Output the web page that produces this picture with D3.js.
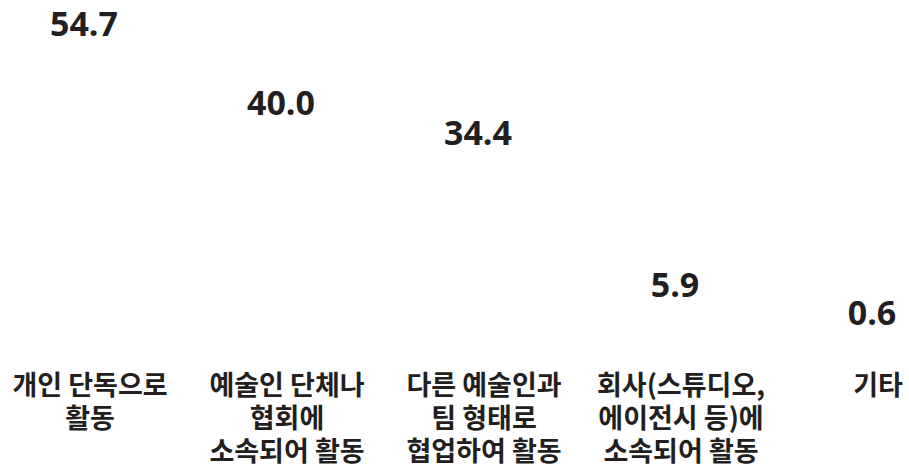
<!DOCTYPE html>
<html>
<head>
<meta charset="utf-8">
<script src="https://cdn.jsdelivr.net/npm/d3@7"></script>
<style>
	html, body { margin: 0; padding: 0; background: #fff; }
	svg { display: block; }
</style>
</head>
<body>
<svg id="chart" width="909" height="468"></svg>
<script>
(function(){

	var categories = ["개인 단독으로 활동", "예술인 단체나 협회에 소속되어 활동", "다른 예술인과 팀 형태로 협업하여 활동", "회사(스튜디오, 에이전시 등)에 소속되어 활동", "기타"];
	var values = [54.7, 40.0, 34.4, 5.9, 0.6];
	var labelLines = [
		["개인 단독으로", "활동"],
		["예술인 단체나", "협회에", "소속되어 활동"],
		["다른 예술인과", "팀 형태로", "협업하여 활동"],
		["회사(스튜디오,", "에이전시 등)에", "소속되어 활동"],
		["기타"]
	];

	var textColor = "#231f20";

	var svg = d3.select("#chart");

	var x = d3.scaleBand()
		.domain(categories)
		.range([-14.5, 970.5])
		.paddingInner(0.3)
		.paddingOuter(0.15);

	var y = d3.scaleLinear()
		.domain([0, 60])
		.range([332, 12]);

	var data = categories.map(function(c, i){ return { cat : c, value : values[i], lines : labelLines[i] }; });

	function center(d){
		return x(d.cat) + x.bandwidth() / 2;
	}

	// bars are white in the original, so they do not show
	svg.append("g").selectAll("rect").data(data).enter().append("rect")
		.attr("x", function(d) { return x(d.cat); })
		.attr("y", function(d) { return y(d.value); })
		.attr("width", x.bandwidth())
		.attr("height", function(d) { return y(0) - y(d.value); })
		.attr("fill", "#fff");

	svg.append("g").selectAll("text").data(data).enter().append("text")
		.attr("x", center)
		.attr("y", function(d) { return y(d.value) - 4; })
		.attr("text-anchor", "middle")
		.attr("font-family", "'Open Sans', 'Noto Sans', sans-serif")
		.attr("font-weight", 700)
		.attr("font-size", 34)
		.attr("fill", textColor)
		.text(function(d) { return d.value.toFixed(1); });

	// one text per line of each category label
	var lineData = [];
	data.forEach(function(d){
		d.lines.forEach(function(l, i){
			lineData.push({ line : l, x : center(d) + 6, row : i });
		});
	});

	svg.append("g").selectAll("text").data(lineData).enter().append("text")
		.attr("x", function(d) { return d.x; })
		.attr("y", function(d) { return 395 + d.row * 33; })
		.attr("text-anchor", "middle")
		.attr("font-family", "'Noto Sans CJK KR', sans-serif")
		.attr("font-weight", 700)
		.attr("font-size", 27)
		.attr("fill", textColor)
		.text(function(d) { return d.line; });

})();
</script>
</body>
</html>
